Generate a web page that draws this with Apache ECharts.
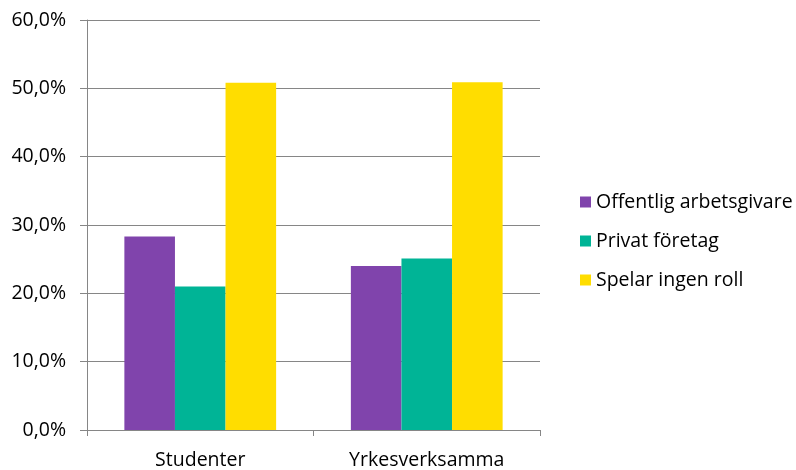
<!DOCTYPE html>
<html>
<head>
<meta charset="utf-8">
<script src="https://cdn.jsdelivr.net/npm/echarts@6/dist/echarts.min.js"></script>
<style>
  html, body { margin: 0; padding: 0; background: #fff; }
  #chart { width: 796px; height: 470px; }
</style>
</head>
<body>
<div id="chart"></div>
<script>
// data (percent)
const categories = ['Studenter', 'Yrkesverksamma']
const seriesNames = ['Offentlig arbetsgivare', 'Privat företag', 'Spelar ingen roll']
const offentlig = [28.3, 24.0]
const privat = [21.0, 25.1]
const ingenRoll = [50.8, 50.9]
const colors = ['#8044AC', '#00B496', '#FFDD00']

const FONT = 'Open Sans'
const FONT_SIZE = 19.5
const GRID_COLOR = '#868686'

const chart = echarts.init(document.getElementById('chart'))

const pct = (v) => v.toFixed(1).replace('.', ',') + '%'

const option = {
  animation: false,
  color: colors,
  grid: {
    left: 87,
    right: 256,
    top: 20,
    bottom: 39,
  },
  legend: {
    orient: 'vertical',
    left: 575,
    top: 186,
    itemWidth: 11,
    itemHeight: 11,
    itemGap: 17,
    icon: 'rect',
    textStyle: {
      fontFamily: FONT,
      fontSize: FONT_SIZE,
      color: '#000',
      lineHeight: 22,
    },
    data: seriesNames,
  },
  xAxis: {
    type: 'category',
    data: categories,
    axisLine: { lineStyle: { color: GRID_COLOR, width: 1 } },
    axisTick: { show: true, length: 6, lineStyle: { color: GRID_COLOR } },
    axisLabel: {
      fontFamily: FONT,
      fontSize: FONT_SIZE,
      color: '#000',
      margin: 20,
    },
  },
  yAxis: {
    type: 'value',
    min: 0,
    max: 60,
    interval: 10,
    axisLine: { show: true, lineStyle: { color: GRID_COLOR, width: 1 } },
    axisTick: { show: true, length: 7, lineStyle: { color: GRID_COLOR } },
    splitLine: { lineStyle: { color: GRID_COLOR, width: 1 } },
    axisLabel: {
      fontFamily: FONT,
      fontSize: FONT_SIZE,
      color: '#000',
      margin: 21,
      formatter: pct,
    },
  },
  series: [
    { name: seriesNames[0], type: 'bar', data: offentlig, barGap: 0, barCategoryGap: '33%' },
    { name: seriesNames[1], type: 'bar', data: privat, barGap: 0, barCategoryGap: '33%' },
    { name: seriesNames[2], type: 'bar', data: ingenRoll, barGap: 0, barCategoryGap: '33%' },
  ],
}

chart.setOption(option)
</script>
</body>
</html>
